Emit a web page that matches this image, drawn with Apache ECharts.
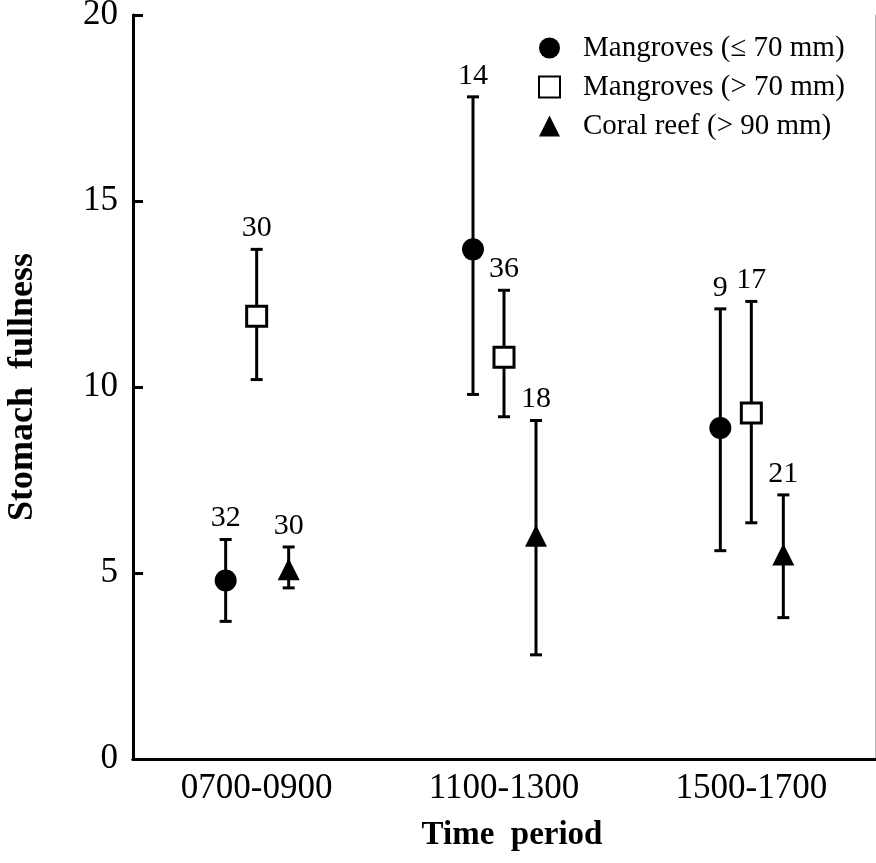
<!DOCTYPE html>
<html>
<head>
<meta charset="utf-8">
<script src="https://cdn.jsdelivr.net/npm/echarts@6/dist/echarts.min.js"></script>
<style>
  html, body { margin: 0; padding: 0; background: #fff; }
  #chart { width: 876px; height: 863px; }
</style>
</head>
<body>
<div id="chart"></div>
<script>
// time periods on the x axis
const categories = ['0700-0900', '1100-1300', '1500-1700'];
const seriesNames = ['Mangroves (\u2264 70 mm)', 'Mangroves (> 70 mm)', 'Coral reef (> 90 mm)'];

// mangroves, fish <= 70 mm
const smallMean = [4.8, 13.7, 8.9];
const smallLow = [3.7, 9.8, 5.6];
const smallHigh = [5.9, 17.8, 12.1];
const smallN = [32, 14, 9];

// mangroves, fish > 70 mm
const largeMean = [11.9, 10.8, 9.3];
const largeLow = [10.2, 9.2, 6.35];
const largeHigh = [13.7, 12.6, 12.3];
const largeN = [30, 36, 17];

// coral reef, fish > 90 mm
const reefMean = [5.1, 6.0, 5.5];
const reefLow = [4.6, 2.8, 3.8];
const reefHigh = [5.7, 9.1, 7.1];
const reefN = [30, 18, 21];

const serif = 'Liberation Serif, Times New Roman, serif';

function errorBars(name, low, high, n, dx) {
  return {
    name: name + ' error',
    type: 'custom',
    silent: true,
    z: 2,
    encode: { x: 0, y: [1, 2] },
    data: categories.map((c, i) => [i, low[i], high[i], n[i]]),
    renderItem: function (params, api) {
      const top = api.coord([api.value(0), api.value(2)]);
      const bot = api.coord([api.value(0), api.value(1)]);
      const x = top[0] + dx;
      const cap = 6;
      const st = { stroke: '#000', lineWidth: 3 };
      return {
        type: 'group',
        children: [
          { type: 'line', shape: { x1: x, y1: top[1], x2: x, y2: bot[1] }, style: st },
          { type: 'line', shape: { x1: x - cap, y1: top[1], x2: x + cap, y2: top[1] }, style: st },
          { type: 'line', shape: { x1: x - cap, y1: bot[1], x2: x + cap, y2: bot[1] }, style: st },
          {
            type: 'text',
            style: {
              text: String(api.value(3)),
              x: x, y: top[1] - 6,
              align: 'center', verticalAlign: 'bottom',
              font: '30px ' + serif, fill: '#000'
            }
          }
        ]
      };
    }
  };
}

function markers(name, mean, symbol, size, dx, style) {
  return {
    name: name,
    type: 'scatter',
    z: 5,
    symbol: symbol,
    symbolSize: size,
    symbolOffset: [dx, 0],
    itemStyle: Object.assign({ opacity: 1 }, style),
    emphasis: { disabled: true },
    data: mean
  };
}

const chart = echarts.init(document.getElementById('chart'));
chart.setOption({
  animation: false,
  backgroundColor: '#fff',
  grid: { left: 133, right: 1, top: 15, bottom: 104, outerBoundsMode: 'none', containLabel: false },
  legend: {
    orient: 'vertical',
    left: 538,
    top: 33,
    padding: 0,
    itemWidth: 21,
    itemHeight: 21,
    itemGap: 9,
    data: seriesNames,
    itemStyle: { opacity: 1 },
    textStyle: { fontFamily: serif, fontSize: 29, color: '#000', lineHeight: 30, padding: [0, 0, 0, 18] }
  },
  xAxis: [
    {
      type: 'category',
      data: categories,
      axisLine: { lineStyle: { color: '#000', width: 3 } },
      axisTick: { show: false },
      axisLabel: { fontFamily: serif, fontSize: 35, color: '#000', margin: 12 },
      name: 'Time  period',
      nameLocation: 'middle',
      nameGap: 60,
      nameTextStyle: { fontFamily: serif, fontSize: 33, fontWeight: 'bold', color: '#000', padding: [0, 0, 0, 16] }
    },
    {
      type: 'category',
      position: 'top',
      data: categories,
      axisLine: { lineStyle: { color: '#000', width: 3 } },
      axisTick: { show: false },
      axisLabel: { show: false }
    }
  ],
  yAxis: [
    {
      type: 'value',
      min: 0,
      max: 20,
      interval: 5,
      axisLine: { show: true, lineStyle: { color: '#000', width: 3 } },
      axisTick: { show: true, inside: true, length: 10, lineStyle: { color: '#000', width: 3 } },
      splitLine: { show: false },
      axisLabel: { fontFamily: serif, fontSize: 35, color: '#000', margin: 15 },
      name: 'Stomach  fullness',
      nameLocation: 'middle',
      nameRotate: 90,
      nameGap: 92,
      nameTextStyle: { fontFamily: serif, fontSize: 36, fontWeight: 'bold', color: '#000' }
    },
    {
      type: 'value',
      position: 'right',
      min: 0,
      max: 20,
      interval: 5,
      axisLine: { show: true, lineStyle: { color: '#bbb', width: 1 } },
      axisTick: { show: false },
      axisLabel: { show: false },
      splitLine: { show: false }
    }
  ],
  series: [
    errorBars(seriesNames[0], smallLow, smallHigh, smallN, -31),
    errorBars(seriesNames[1], largeLow, largeHigh, largeN, 0),
    errorBars(seriesNames[2], reefLow, reefHigh, reefN, 32),
    markers(seriesNames[0], smallMean, 'circle', 22, -31, { color: '#000' }),
    markers(seriesNames[1], largeMean, 'rect', 20, 0, { color: '#fff', borderColor: '#000', borderWidth: 3 }),
    markers(seriesNames[2], reefMean, 'triangle', 22, 32, { color: '#000' })
  ]
});
</script>
</body>
</html>
